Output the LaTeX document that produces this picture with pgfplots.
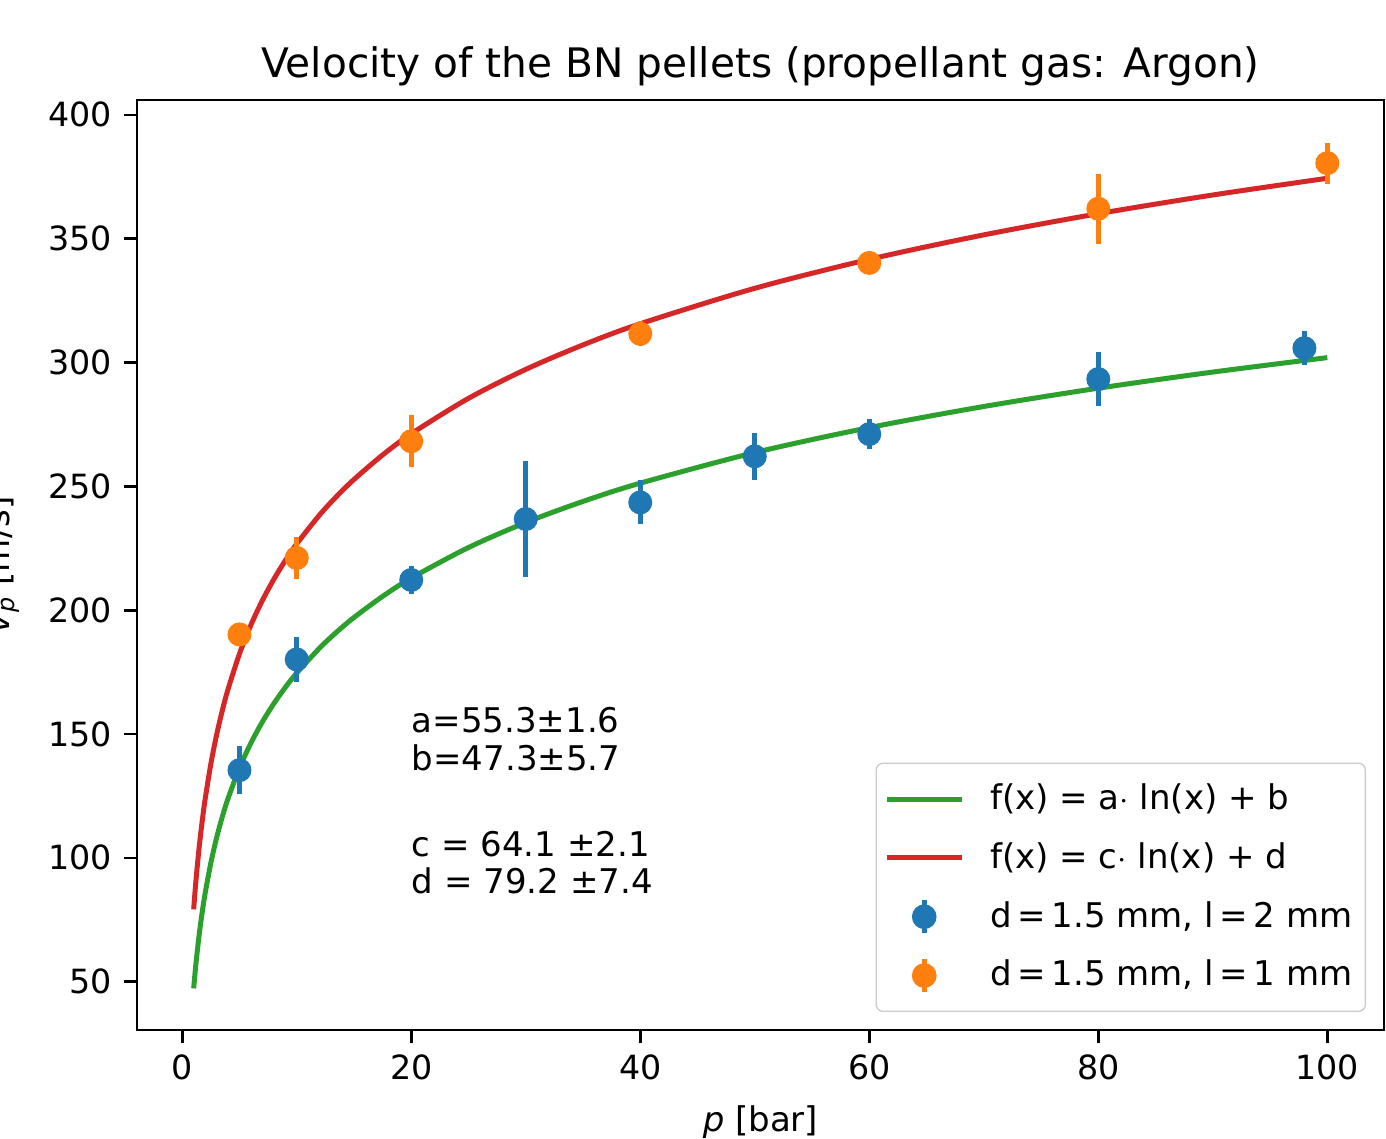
\documentclass[border=0pt]{standalone}
\usepackage{fontspec}
\setmainfont{DejaVu Sans}
\usepackage{pgfplots}
\pgfplotsset{compat=1.18}
\usetikzlibrary{calc}

\definecolor{tabblue}{HTML}{1F77B4}
\definecolor{taborange}{HTML}{FF7F0E}
\definecolor{tabgreen}{HTML}{2CA02C}
\definecolor{tabred}{HTML}{D62728}

\begin{document}
\begin{tikzpicture}[font=\fontsize{10.2}{12.2}\selectfont]
\begin{axis}[
  width=374.1pt, height=279pt, scale only axis,
  xmin=-3.95, xmax=104.95, ymin=30.5, ymax=406,
  xtick={0,20,...,100}, ytick={50,100,...,400},
  tick pos=left, tick align=outside, major tick length=4pt,
  every tick/.style={black, line width=0.8pt},
  axis line style={line width=0.8pt},
  /pgf/number format/assume math mode=true,
  ticklabel style={font=\fontsize{10}{12}\selectfont},
  title={Velocity of the BN pellets (propellant gas: Argon)},
  title style={at={(axis description cs:0.5,1)}, anchor=base, yshift=0.6pt,
    inner sep=0pt, font=\fontsize{12.2}{14}\selectfont},
  xlabel={\textit{p} [bar]},
  xlabel style={at={(axis description cs:0.5,-0.0806)}, anchor=north, inner sep=0pt},
  ylabel={\textit{v}\textsubscript{\textit{p}} [m/s]},
  ylabel style={at={(axis description cs:-0.0938,0.5)}, anchor=south, inner sep=0pt},
  legend style={at={(axis description cs:1,0)}, anchor=south east,
    xshift=-5.4pt, yshift=5.4pt, draw=black!20, rounded corners=2pt,
    fill=white, inner xsep=2.4pt, inner ysep=4.6pt, row sep=5.4pt,
    column sep=6.3pt, nodes={inner sep=1.5pt},
    font=\fontsize{10.2}{12.2}\selectfont},
  legend cell align=left,
]

% legend entries, in the order of the original
\addlegendimage{legend image code/.code={
  \draw[tabgreen, line width=1.5pt] (0pt,0pt) -- (22.5pt,0pt);}}
\addlegendentry{f(x) = a$\cdot$ ln(x) + b}
\addlegendimage{legend image code/.code={
  \draw[tabred, line width=1.5pt] (0pt,0pt) -- (22.5pt,0pt);}}
\addlegendentry{f(x) = c$\cdot$ ln(x) + d}
\addlegendimage{legend image code/.code={
  \path[draw=none, fill=none] (0pt,0pt) rectangle (22.5pt,0pt);
  \draw[tabblue, line width=1.5pt] (11.25pt,-5pt) -- (11.25pt,5pt);
  \fill[tabblue] (11.25pt,0pt) circle (3.5pt);}}
\addlegendentry{d\,=\,1.5 mm, l\,=\,2 mm}
\addlegendimage{legend image code/.code={
  \path[draw=none, fill=none] (0pt,0pt) rectangle (22.5pt,0pt);
  \draw[taborange, line width=1.5pt] (11.25pt,-5pt) -- (11.25pt,5pt);
  \fill[taborange] (11.25pt,0pt) circle (3.5pt);}}
\addlegendentry{d\,=\,1.5 mm, l\,=\,1 mm}

% fitted curves a ln(x) + b and c ln(x) + d, tabulated
\addplot[forget plot, tabgreen, line width=1.5pt, smooth] coordinates {
  (1,47.30) (1.1,52.57) (1.25,59.64) (1.5,69.72) (1.75,78.25) (2,85.63)
  (2.5,97.97) (3,108.05) (3.5,116.58) (4,123.96) (5,136.30) (6,146.38)
  (7,154.91) (8,162.29) (9,168.81) (10,174.63) (12,184.72) (13.5,191.23)
  (15,197.06) (17.5,205.58) (20,212.96) (25,225.30) (30,235.39) (35,243.91)
  (40,251.29) (50,263.64) (60,273.72) (70,282.24) (80,289.63) (90,296.14)
  (100,301.97)
};
\addplot[forget plot, tabred, line width=1.5pt, smooth] coordinates {
  (1,79.20) (1.1,85.31) (1.25,93.50) (1.5,105.19) (1.75,115.07) (2,123.63)
  (2.5,137.93) (3,149.62) (3.5,159.50) (4,168.06) (5,182.37) (6,194.05)
  (7,203.93) (8,212.49) (9,220.04) (10,226.80) (12,238.48) (13.5,246.03)
  (15,252.79) (17.5,262.67) (20,271.23) (25,285.53) (30,297.22) (35,307.10)
  (40,315.66) (50,329.96) (60,341.65) (70,351.53) (80,360.09) (90,367.64)
  (100,374.39)
};

% measurements
\addplot[forget plot, only marks, mark=*, mark size=3.4pt, tabblue,
  error bars/.cd, y dir=both, y explicit, error mark=none,
  error bar style={line width=1.5pt, tabblue}] coordinates {
  (5,135.4) +- (0,9.7)
  (10,180.1) +- (0,9.1)
  (20,212.2) +- (0,5.6)
  (30,236.8) +- (0,23.5)
  (40,243.5) +- (0,8.9)
  (50,262.1) +- (0,9.4)
  (60,271.1) +- (0,6.2)
  (80,293.3) +- (0,11)
  (98,305.8) +- (0,6.9)
};
\addplot[forget plot, only marks, mark=*, mark size=3.4pt, taborange,
  error bars/.cd, y dir=both, y explicit, error mark=none,
  error bar style={line width=1.5pt, taborange}] coordinates {
  (5,190.2) +- (0,3)
  (10,221.1) +- (0,8.4)
  (20,268.2) +- (0,10.5)
  (40,311.6) +- (0,5)
  (60,340.2) +- (0,3)
  (80,362.1) +- (0,14.1)
  (100,380.5) +- (0,8.3)
};

\node[anchor=base west, inner sep=0pt] at (axis cs:20,150.6) {a=55.3±1.6};
\node[anchor=base west, inner sep=0pt] at (axis cs:20,135.3) {b=47.3±5.7};
\node[anchor=base west, inner sep=0pt] at (axis cs:20,100.6) {c = 64.1 ±2.1};
\node[anchor=base west, inner sep=0pt] at (axis cs:20,85.6) {d = 79.2 ±7.4};

\end{axis}
% the reference is cropped close on the left, right and bottom
\pgfresetboundingbox
\path[use as bounding box] ($(current axis.south west)+(-41.1pt,-32.7pt)$)
  rectangle ($(current axis.north east)+(0.6pt,30pt)$);
\end{tikzpicture}
\end{document}
